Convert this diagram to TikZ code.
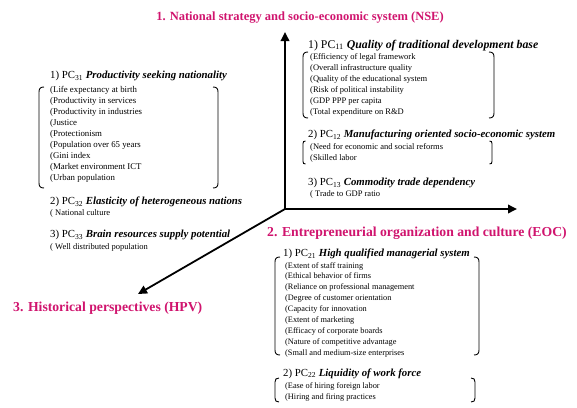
\documentclass[tikz,border=0pt]{standalone}
\usepackage{fontspec}
\setmainfont{Liberation Serif}
\usetikzlibrary{arrows.meta}
\definecolor{ttl}{HTML}{D0146E}
\newcommand{\brk}[5]{%
  \draw[brk] (#1+#5,#2) .. controls (#1+0.3*#5,#2) and (#1,#2+0.3*#5) .. (#1,#2+#5) -- (#1,#4-#5) .. controls (#1,#4-0.3*#5) and (#1+0.3*#5,#4) .. (#1+#5,#4);
  \draw[brk] (#3-#5,#2) .. controls (#3-0.3*#5,#2) and (#3,#2+0.3*#5) .. (#3,#2+#5) -- (#3,#4-#5) .. controls (#3,#4-0.3*#5) and (#3-0.3*#5,#4) .. (#3-#5,#4);}
\tikzset{
  ttlnode/.style={font=\fontsize{13.7}{15}\selectfont\bfseries, text=ttl, inner sep=0pt, anchor=base west},
  head/.style={font=\fontsize{10.8}{12}\selectfont, inner sep=0pt, anchor=base west},
  headbig/.style={head, font=\fontsize{11.8}{13}\selectfont},
  item/.style={font=\fontsize{8.5}{10}\selectfont, inner sep=0pt, anchor=base west},
  itemlg/.style={item, font=\fontsize{8.8}{10}\selectfont},
  itemsm/.style={item, font=\fontsize{8.3}{10}\selectfont},
  axis/.style={line width=1.8pt, -{Triangle[length=9pt,width=8.5pt]}},
  brk/.style={line width=0.9pt},
}
\begin{document}
\begin{tikzpicture}[x=1pt,y=-1pt]
\useasboundingbox (0,0) rectangle (577,407);
% titles
\node[ttlnode, anchor=base, font=\fontsize{12.5}{14}\selectfont\bfseries] (t1) at (300,20.4) {1. National strategy and socio-economic system (NSE)};
\node[ttlnode] (t2) at (267,236.8) {2. Entrepreneurial organization and culture (EOC)};
\node[ttlnode] (t3) at (13,311.8) {3. Historical perspectives (HPV)};
% axes
\coordinate (o) at (285,209);
\coordinate (up) at (285,32);
\coordinate (rt) at (517,209);
\coordinate (dl) at (138,294);
\draw[axis] (o) -- (up);
\draw[axis] (o) -- (rt);
\draw[axis] (o) -- (dl);
% PC11
\node[headbig] (h11) at (308,48) {1) PC\textsubscript{11} \textbf{\textit{Quality of traditional development base}}};
\foreach \t [count=\i] in {Efficiency of legal framework,Overall infrastructure quality,Quality of the educational system,Risk of political instability,GDP PPP per capita,Total expenditure on R\&D}
  \node[item] (i11-\i) at (310,{59+11.1*(\i-1)}) {(\t};
\brk{303}{52}{494}{118}{5}
% PC12
\node[head] (h12) at (308,137.5) {2) PC\textsubscript{12} \textbf{\textit{Manufacturing oriented socio-economic system}}};
\foreach \t [count=\i] in {Need for economic and social reforms,Skilled labor}
  \node[item] (i12-\i) at (310,{149+11*(\i-1)}) {(\t};
\brk{303}{141}{492}{164}{2.5}
% PC13
\node[head] (h13) at (308,185.5) {3) PC\textsubscript{13} \textbf{\textit{Commodity trade dependency}}};
\node[item] (i13-1) at (310,196.5) {( Trade to GDP ratio};
% PC31
\node[head] (h31) at (50,78.5) {1) PC\textsubscript{31} \textbf{\textit{Productivity seeking nationality}}};
\foreach \t [count=\i] in {Life expectancy at birth,Productivity in services,Productivity in industries,Justice,Protectionism,Population over 65 years,Gini index,Market environment ICT,Urban population}
  \node[itemlg] (i31-\i) at (50,{92+11*(\i-1)}) {(\t};
\brk{39}{87}{218}{188}{5}
% PC32
\node[head] (h32) at (50,204.5) {2) PC\textsubscript{32} \textbf{\textit{Elasticity of heterogeneous nations}}};
\node[item] (i32-1) at (50,215.5) {( National culture};
% PC33
\node[head] (h33) at (50,237.5) {3) PC\textsubscript{33} \textbf{\textit{Brain resources supply potential}}};
\node[item] (i33-1) at (50,249.5) {( Well distributed population};
% PC21
\node[head] (h21) at (283,256.5) {1) PC\textsubscript{21} \textbf{\textit{High qualified managerial system}}};
\foreach \t [count=\i] in {Extent of staff training,Ethical behavior of firms,Reliance on professional management,Degree of customer orientation,Capacity for innovation,Extent of marketing,Efficacy of corporate boards,Nature of competitive advantage,Small and medium-size enterprises}
  \node[itemsm] (i21-\i) at (285,{268+10.9*(\i-1)}) {(\t};
\brk{275}{257}{479}{355}{5}
% PC22
\node[head] (h22) at (283,376) {2) PC\textsubscript{22} \textbf{\textit{Liquidity of work force}}};
\foreach \t [count=\i] in {Ease of hiring foreign labor,Hiring and firing practices}
  \node[itemsm] (i22-\i) at (285,{388+11*(\i-1)}) {(\t};
\brk{275}{378}{475}{402}{4}
\end{tikzpicture}
\end{document}
